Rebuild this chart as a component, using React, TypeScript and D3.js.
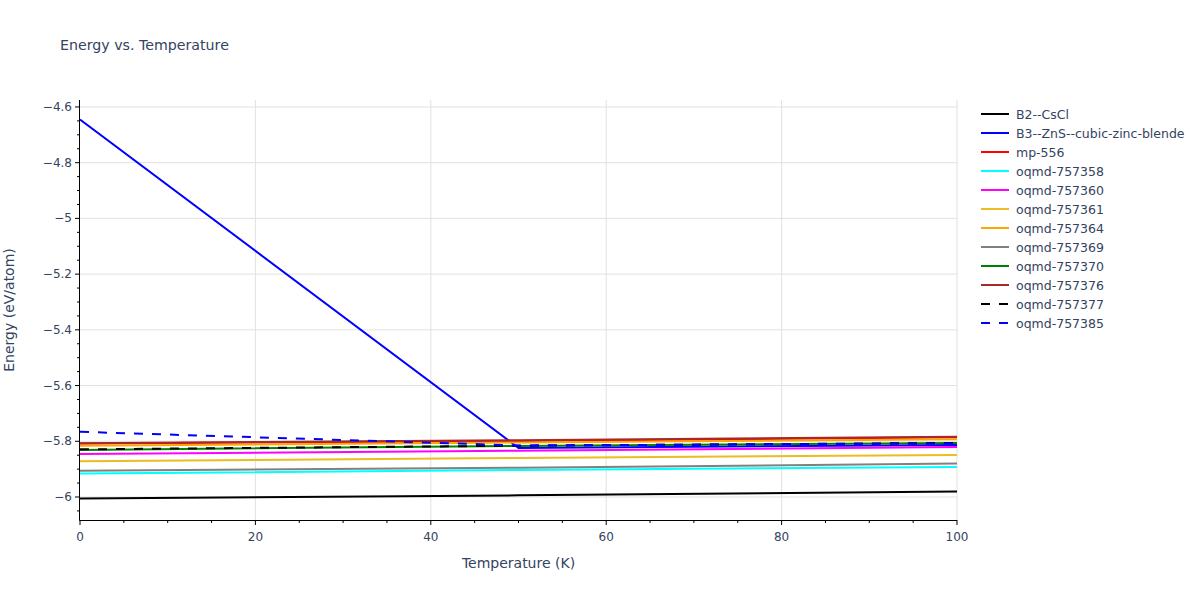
import * as d3 from 'd3'

const WIDTH = 1200
const HEIGHT = 600
const M = { left: 80, right: 957, top: 100, bottom: 520 }
const FONT = '"DejaVu Sans", verdana, arial, sans-serif'
const TEXT = '#34435f'

// temperatures (K) at which every series is sampled
const temps = [0, 50, 100]

const seriesNames = [
  'B2--CsCl',
  'B3--ZnS--cubic-zinc-blende',
  'mp-556',
  'oqmd-757358',
  'oqmd-757360',
  'oqmd-757361',
  'oqmd-757364',
  'oqmd-757369',
  'oqmd-757370',
  'oqmd-757376',
  'oqmd-757377',
  'oqmd-757385',
]
const seriesColors = [
  'black',
  'blue',
  'red',
  'cyan',
  'magenta',
  '#ebbd1e',
  'orange',
  'gray',
  'green',
  'brown',
  'black',
  'blue',
]
const seriesDashed = [false, false, false, false, false, false, false, false, false, false, true, true]

const b2 = [-6.005, -5.994, -5.98]
const b3 = [-4.645, -5.824, -5.813]
const mp556 = [-5.808, -5.799, -5.786]
const oqmd757358 = [-5.916, -5.903, -5.892]
const oqmd757360 = [-5.846, -5.834, -5.821]
const oqmd757361 = [-5.872, -5.86, -5.849]
const oqmd757364 = [-5.816, -5.804, -5.793]
const oqmd757369 = [-5.906, -5.895, -5.88]
const oqmd757370 = [-5.831, -5.817, -5.806]
const oqmd757376 = [-5.807, -5.796, -5.784]
const oqmd757377 = [-5.829, -5.816, -5.806]
const oqmd757385 = [-5.766, -5.815, -5.808]

const seriesValues = [
  b2,
  b3,
  mp556,
  oqmd757358,
  oqmd757360,
  oqmd757361,
  oqmd757364,
  oqmd757369,
  oqmd757370,
  oqmd757376,
  oqmd757377,
  oqmd757385,
]

const xTicks = [0, 20, 40, 60, 80, 100]
const yTicks = [-4.6, -4.8, -5, -5.2, -5.4, -5.6, -5.8, -6]

const fmt = (v: number) => String(v).replace('-', '\u2212')

export default function App() {
  const x = d3.scaleLinear([0, 100], [M.left, M.right])
  const y = d3.scaleLinear([-6.0826, -4.575], [M.bottom, M.top])
  const line = d3.line<number>(
    (_, i) => x(temps[i]),
    (d) => y(d),
  )
  const xMinor = d3.range(0, 101, 5).filter((t) => t % 20 !== 0)
  const yMinor = d3.range(-6.05, -4.57, 0.05).filter(
    (v) => !yTicks.some((t) => Math.abs(t - v) < 1e-6) && v < -4.575,
  )

  return (
    <div style={{ position: 'absolute', left: 0, top: 0 }}>
      <svg width={WIDTH} height={HEIGHT} style={{ display: 'block', background: 'white', fontFamily: FONT }}>
        <defs>
          <clipPath id="plot-clip">
            <rect x={M.left} y={M.top} width={M.right - M.left} height={M.bottom - M.top} />
          </clipPath>
        </defs>

        <text x={60} y={50} fontSize={14.2} fill={TEXT}>
          Energy vs. Temperature
        </text>

        {/* grid */}
        <g stroke="#e1e1e1" strokeWidth={1}>
          {yTicks.map((t) => (
            <line key={t} x1={M.left} x2={M.right} y1={y(t)} y2={y(t)} />
          ))}
          {xTicks.slice(1).map((t) => (
            <line key={t} x1={x(t)} x2={x(t)} y1={M.top} y2={M.bottom} />
          ))}
        </g>

        {/* series */}
        <g clipPath="url(#plot-clip)" fill="none">
          {seriesValues.map((vals, i) => (
            <path
              key={seriesNames[i]}
              d={line(vals) ?? ''}
              stroke={seriesColors[i]}
              strokeWidth={2}
              strokeDasharray={seriesDashed[i] ? '9,9' : undefined}
            />
          ))}
        </g>

        {/* axes */}
        <g stroke="#000" strokeWidth={1}>
          <line x1={M.left - 0.5} x2={M.left - 0.5} y1={M.top} y2={M.bottom + 0.5} />
          <line x1={M.left - 0.5} x2={M.right} y1={M.bottom + 0.5} y2={M.bottom + 0.5} />
          {xTicks.map((t) => (
            <line key={t} x1={x(t)} x2={x(t)} y1={M.bottom} y2={M.bottom + 5} />
          ))}
          {xMinor.map((t) => (
            <line key={t} x1={x(t)} x2={x(t)} y1={M.bottom} y2={M.bottom + 3} />
          ))}
          {yTicks.map((t) => (
            <line key={t} x1={M.left - 5} x2={M.left} y1={y(t)} y2={y(t)} />
          ))}
          {yMinor.map((t) => (
            <line key={t} x1={M.left - 3} x2={M.left} y1={y(t)} y2={y(t)} />
          ))}
        </g>
        <g fontSize={12} fill={TEXT}>
          {xTicks.map((t) => (
            <text key={t} x={x(t)} y={M.bottom + 21} textAnchor="middle">
              {t}
            </text>
          ))}
          {yTicks.map((t) => (
            <text key={t} x={M.left - 8} y={y(t) + 4} textAnchor="end">
              {fmt(t)}
            </text>
          ))}
        </g>
        <text x={(M.left + M.right) / 2} y={568} fontSize={14} fill={TEXT} textAnchor="middle">
          Temperature (K)
        </text>
        <text
          transform={`translate(14,${(M.top + M.bottom) / 2}) rotate(-90)`}
          fontSize={14}
          fill={TEXT}
          textAnchor="middle"
        >
          Energy (eV/atom)
        </text>

        {/* legend */}
        <g fontSize={12.5} fill={TEXT}>
          {seriesNames.map((name, i) => (
            <g key={name} transform={`translate(981,${114 + i * 19})`}>
              <line
                x1={0}
                x2={28}
                stroke={seriesColors[i]}
                strokeWidth={2}
                strokeDasharray={seriesDashed[i] ? '9,9' : undefined}
              />
              <text x={35} y={4.5}>
                {name}
              </text>
            </g>
          ))}
        </g>
      </svg>
    </div>
  )
}
